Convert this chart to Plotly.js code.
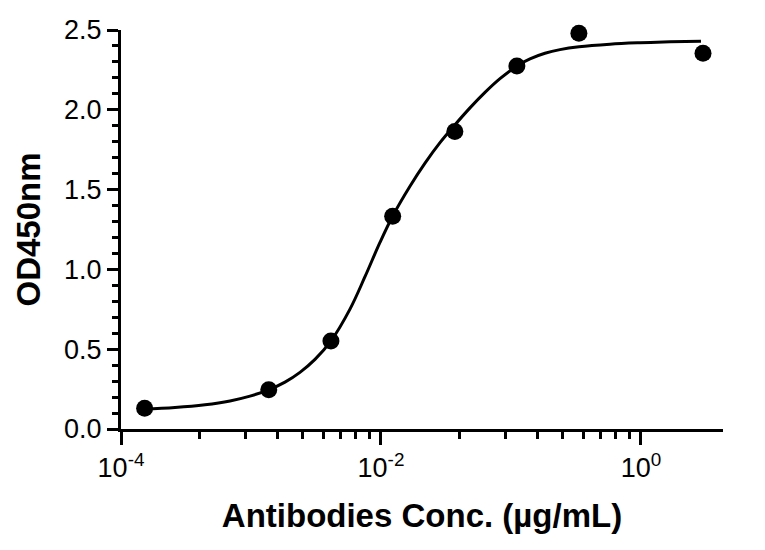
<!DOCTYPE html>
<html>
<head>
<meta charset="utf-8">
<script src="https://cdn.plot.ly/plotly-3.0.1.min.js"></script>
<style>html,body{margin:0;padding:0;background:#fff;}#chart{width:765px;height:550px;}</style>
</head>
<body>
<div id="chart"></div>
<script>
// Measured points (3-fold dilution series)
const concentrations = [0.000152, 0.00137, 0.00412, 0.0123, 0.037, 0.111, 0.333, 3.0];
const od450 = [0.13, 0.246, 0.552, 1.333, 1.864, 2.275, 2.479, 2.354];

// Fitted curve
const curveX = [0.0001476, 0.0002602, 0.0004428, 0.0006896, 0.0009824, 0.001351, 0.001826, 0.002381,
  0.003107, 0.004124, 0.005774, 0.007530, 0.009824, 0.01237, 0.01671, 0.02181, 0.02844, 0.03710,
  0.04837, 0.06310, 0.08230, 0.1112, 0.1400, 0.1826, 0.2381, 0.3336, 0.5775, 0.9824, 1.671, 2.894];
const curveY = [0.125, 0.135, 0.152, 0.176, 0.206, 0.244, 0.294, 0.355,
  0.436, 0.552, 0.751, 0.954, 1.169, 1.3375, 1.521, 1.666, 1.794, 1.906,
  2.012, 2.109, 2.195, 2.275, 2.319, 2.354, 2.377, 2.395, 2.411, 2.420, 2.426, 2.430];

const xMajorVals = [0.0001, 0.01, 1];
const xMajorText = ['10<sup>-4</sup>', '10<sup>-2</sup>', '10<sup>0</sup>'];
const xMinorMultipliers = [4, 9, 16, 25, 36, 49, 64, 81];
const xMinorVals = [];
[0.0001, 0.01].forEach(b => xMinorMultipliers.forEach(m => xMinorVals.push(b * m)));

const FONT = 'Liberation Sans, Arial, Helvetica, sans-serif';

const traces = [
  {x: curveX, y: curveY, type: 'scatter', mode: 'lines',
   line: {color: '#000', width: 3, shape: 'spline', smoothing: 1}, hoverinfo: 'skip', cliponaxis: false},
  {x: concentrations, y: od450, type: 'scatter', mode: 'markers', cliponaxis: false,
   marker: {color: '#000', size: 17}}
];

const layout = {
  width: 765, height: 550,
  margin: {l: 121, r: 42, t: 30, b: 121},
  paper_bgcolor: '#fff', plot_bgcolor: '#fff',
  showlegend: false,
  font: {family: FONT, color: '#000'},
  xaxis: {
    type: 'log', range: [-4, 0.631],
    tickmode: 'array', tickvals: xMajorVals, ticktext: xMajorText,
    ticks: 'outside', ticklen: 13, tickwidth: 3, tickcolor: '#000',
    minor: {tickmode: 'array', tickvals: xMinorVals, ticks: 'outside', ticklen: 7, tickwidth: 3, tickcolor: '#000', showgrid: false},
    showline: true, linewidth: 3, linecolor: '#000',
    showgrid: false, zeroline: false,
    tickfont: {size: 27, family: FONT},
    title: {text: 'Antibodies Conc. (µg/mL)', standoff: 22,
            font: {size: 33, family: FONT, weight: 'bold'}}
  },
  yaxis: {
    range: [0, 2.5],
    tickmode: 'linear', tick0: 0, dtick: 0.5, tickformat: '.1f',
    ticks: 'outside', ticklen: 11, tickwidth: 3, tickcolor: '#000',
    minor: {dtick: 0.1, ticks: 'outside', ticklen: 6, tickwidth: 3, tickcolor: '#000', showgrid: false},
    showline: true, linewidth: 3, linecolor: '#000',
    showgrid: false, zeroline: false,
    tickfont: {size: 27, family: FONT},
    title: {text: 'OD450nm', standoff: 14,
            font: {size: 33, family: FONT, weight: 'bold'}}
  }
};

Plotly.newPlot('chart', traces, layout, {displayModeBar: false, staticPlot: true});
</script>
</body>
</html>
